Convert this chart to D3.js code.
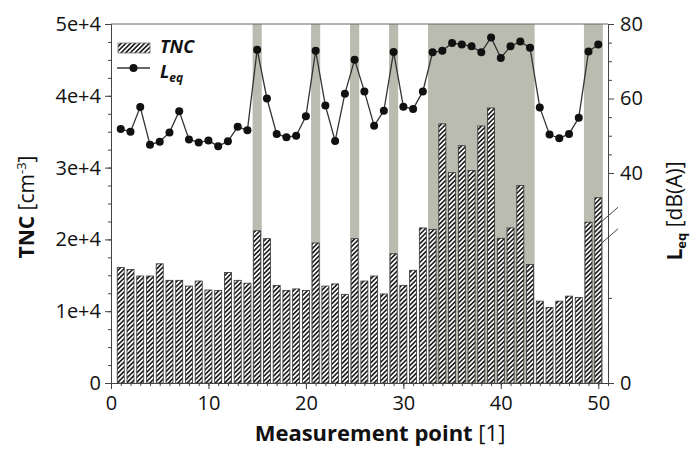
<!DOCTYPE html>
<html>
<head>
<meta charset="utf-8">
<script src="https://cdn.jsdelivr.net/npm/d3@7"></script>
<style>
  body { margin: 0; background: #fff; }
  svg text { font-family: "Open Sans", sans-serif; fill: #111; }
  .axis path, .axis line { stroke: #444; }
</style>
</head>
<body>
<div id="chart"></div>
<script>
// Measurement points 1..50
var points = d3.range(1, 51);

// Total number concentration [cm-3] per point
var tnc = [16100, 15800, 14900, 14900, 16600, 14300, 14300, 13500, 14200, 12950,
           12900, 15400, 14300, 13900, 21200, 20100, 13600, 12900, 13100, 12900,
           19500, 13500, 13800, 12350, 20100, 14200, 14900, 12400, 18000, 13600,
           15700, 21600, 21400, 36100, 29300, 33050, 29600, 35800, 38300, 20150,
           21600, 27500, 16500, 11400, 10500, 11400, 12100, 11900, 22400, 25800];

// Equivalent sound level [dB(A)] per point
var leq = [51.8, 51.1, 57.7, 47.6, 48.4, 50.9, 56.6, 49.0, 48.2, 48.7,
           47.2, 48.5, 52.4, 51.5, 73.1, 60.0, 50.5, 49.6, 50.0, 55.2,
           72.8, 58.1, 48.6, 61.3, 70.4, 61.9, 52.7, 56.7, 72.5, 57.8,
           57.2, 61.9, 72.4, 72.8, 74.9, 74.5, 74.0, 72.4, 76.4, 70.9,
           74.0, 75.3, 73.6, 57.6, 50.3, 49.3, 50.5, 54.8, 72.6, 74.5];

// Shaded runs of points (first, last)
var shaded = [[15, 15], [21, 21], [25, 25], [29, 29], [33, 43], [49, 50]];

// Tick values
var xTicks = [0, 10, 20, 30, 40, 50];
var tncTicks = [0, 10000, 20000, 30000, 40000, 50000];
var tncLabels = ["0", "1e+4", "2e+4", "3e+4", "4e+4", "5e+4"];
var leqTicks = [0, 40, 60, 80];
var leqMinor = [20, 45, 50, 55, 65, 70, 75];

var W = 694, H = 450;
var margin = { top: 24, right: 86, bottom: 67, left: 111 };
var width = W - margin.left - margin.right,
  height = H - margin.top - margin.bottom;

var svg = d3.select("#chart").append("svg")
  .attr("width", W).attr("height", H);

// Hatch pattern for the bars
var defs = svg.append("defs");
var pat = defs.append("pattern")
  .attr("id", "hatch")
  .attr("patternUnits", "userSpaceOnUse")
  .attr("width", 3.3).attr("height", 3.3)
  .attr("patternTransform", "rotate(45)");
pat.append("rect").attr("width", 3.3).attr("height", 3.3).attr("fill", "#fff");
pat.append("line").attr("x1", 0.8).attr("x2", 0.8).attr("y1", 0).attr("y2", 3.3)
  .attr("stroke", "#222").attr("stroke-width", 1.7);

var g = svg.append("g")
  .attr("transform", `translate(${margin.left},${margin.top})`);

// Scales
var x = d3.scaleLinear().domain([0, 51]).range([0, width]);
var yL = d3.scaleLinear().domain([0, 50000]).range([height, 0]);
// right axis is broken between 20 and 40
var yR = d3.scaleLinear().domain([0, 20, 40, 80])
  .range([height, height * 0.763, height * 0.415, 0]);

var step = x(1) - x(0);
var barW = step * 0.72;

// Shaded bands
g.selectAll(".band")
  .data(shaded)
  .enter()
  .append("rect")
  .attr("class", "band")
  .attr("x", function(d) { return x(d[0] - 0.47); })
  .attr("width", function(d) { return x(d[1] + 0.47) - x(d[0] - 0.47); })
  .attr("y", 0)
  .attr("height", height)
  .attr("fill", "#bbbcb0");

// Bars
g.selectAll(".bar")
  .data(tnc)
  .enter()
  .append("rect")
  .attr("class", "bar")
  .attr("x", function(d, i) { return x(points[i]) - barW / 2; })
  .attr("width", barW)
  .attr("y", function(d) { return yL(d); })
  .attr("height", function(d) { return height - yL(d); })
  .attr("fill", "url(#hatch)")
  .attr("stroke", "#333")
  .attr("stroke-width", 0.8);

// Leq line and dots
var line = d3.line()
  .x(function(d, i) { return x(points[i]); })
  .y(function(d) { return yR(d); });

g.append("path")
  .datum(leq)
  .attr("d", line)
  .attr("fill", "none")
  .attr("stroke", "#333")
  .attr("stroke-width", 1.3);

g.selectAll(".dot")
  .data(leq)
  .enter()
  .append("circle")
  .attr("class", "dot")
  .attr("cx", function(d, i) { return x(points[i]); })
  .attr("cy", function(d) { return yR(d); })
  .attr("r", 4)
  .attr("fill", "#111");

// Top frame line
g.append("line")
  .attr("x1", 0).attr("x2", width)
  .attr("y1", 0).attr("y2", 0)
  .attr("stroke", "#666");

// Left axis: minor then major ticks
g.append("g").attr("class", "axis")
  .call(d3.axisLeft(yL).tickValues(d3.range(0, 50001, 2500)).tickSize(3)
    .tickSizeOuter(0).tickFormat(""));
g.append("g").attr("class", "axis")
  .call(d3.axisLeft(yL).tickValues(tncTicks).tickSize(6).tickSizeOuter(0)
    .tickFormat(function(d, i) { return tncLabels[i]; }))
  .selectAll("text").attr("font-size", 20).attr("dx", -1);

// Bottom axis
g.append("g").attr("class", "axis")
  .attr("transform", `translate(0,${height})`)
  .call(d3.axisBottom(x).tickValues(d3.range(0, 52)).tickSize(3)
    .tickSizeOuter(0).tickFormat(""));
g.append("g").attr("class", "axis")
  .attr("transform", `translate(0,${height})`)
  .call(d3.axisBottom(x).tickValues(xTicks).tickSize(6).tickSizeOuter(0))
  .selectAll("text").attr("font-size", 20).attr("dy", "0.9em");

// Right axis
var right = g.append("g").attr("class", "axis")
  .attr("transform", `translate(${width},0)`);
right.call(d3.axisRight(yR).tickValues(leqMinor).tickSize(4)
  .tickSizeOuter(0).tickFormat(""));
right.append("g")
  .call(d3.axisRight(yR).tickValues(leqTicks).tickSize(6).tickSizeOuter(0))
  .selectAll("text").attr("font-size", 20).attr("dx", 3);
right.selectAll(".domain").attr("stroke", "#444");

// Break marks on the right axis
right.selectAll(".brk")
  .data([0.53, 0.59])
  .enter()
  .append("line")
  .attr("class", "brk")
  .attr("x1", -6).attr("x2", 10)
  .attr("y1", function(d) { return height * d + 7; })
  .attr("y2", function(d) { return height * d - 7; })
  .attr("stroke", "#555")
  .attr("stroke-width", 1);

// Axis titles
var xt = svg.append("text")
  .attr("x", 380)
  .attr("y", 441)
  .attr("text-anchor", "middle")
  .attr("font-size", 22);
xt.append("tspan").attr("font-weight", "bold").text("Measurement point");
xt.append("tspan").text(" [1]");

var yt = svg.append("text")
  .attr("transform", "translate(34,207) rotate(-90)")
  .attr("text-anchor", "middle")
  .attr("font-size", 21);
yt.append("tspan").attr("font-weight", "bold").text("TNC");
yt.append("tspan").text(" [cm");
yt.append("tspan").attr("font-size", 13).attr("dy", -8).text("-3");
yt.append("tspan").attr("dy", 8).text("]");

var rt = svg.append("text")
  .attr("transform", "translate(682,211) rotate(-90)")
  .attr("text-anchor", "middle")
  .attr("font-size", 21);
rt.append("tspan").attr("font-weight", "bold").text("L");
rt.append("tspan").attr("font-weight", "bold").attr("font-size", 13).attr("dy", 4).text("eq");
rt.append("tspan").attr("dy", -4).text(" [dB(A)]");

// Legend
var lg = svg.append("g");
lg.append("rect")
  .attr("x", 118).attr("y", 43).attr("width", 32).attr("height", 10)
  .attr("fill", "url(#hatch)").attr("stroke", "#777").attr("stroke-width", 0.8);
lg.append("text")
  .attr("x", 160).attr("y", 53)
  .attr("font-size", 18).attr("font-weight", "bold").attr("font-style", "italic")
  .text("TNC");
lg.append("line")
  .attr("x1", 117).attr("x2", 150).attr("y1", 68).attr("y2", 68)
  .attr("stroke", "#333").attr("stroke-width", 1.3);
lg.append("circle")
  .attr("cx", 133.5).attr("cy", 68).attr("r", 4).attr("fill", "#111");
var ll = lg.append("text")
  .attr("x", 160).attr("y", 78)
  .attr("font-size", 18).attr("font-weight", "bold").attr("font-style", "italic");
ll.append("tspan").text("L");
ll.append("tspan").attr("font-size", 12).attr("dy", 4).text("eq");
</script>
</body>
</html>
